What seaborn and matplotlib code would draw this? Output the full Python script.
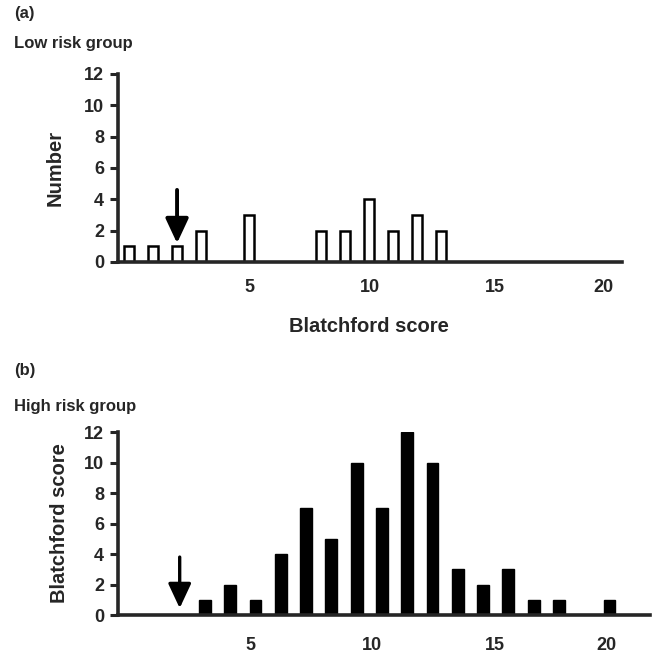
import seaborn as sns
import matplotlib.pyplot as plt
import numpy as np

# data
low_scores = [0, 1, 2, 3, 5, 8, 9, 10, 11, 12, 13]
low_counts = [1, 1, 1, 2, 3, 2, 2, 4, 2, 3, 2]

high_scores = [3, 4, 5, 6, 7, 8, 9, 10, 11, 12, 13, 14, 15, 16, 17, 19]
high_counts = [1, 2, 1, 4, 7, 5, 10, 7, 12, 10, 3, 2, 3, 1, 1, 1]

tick_labels = ["5", "10", "15", "20"]
y_ticks = [0, 2, 4, 6, 8, 10, 12]
cutoff = 2  # arrow marks the score cut-off

sns.set_style("ticks")
plt.rcParams["font.family"] = ["Liberation Sans", "DejaVu Sans"]
plt.rcParams["font.weight"] = "bold"

fig = plt.figure(figsize=(6.53, 6.54), dpi=100)


def style_axis(ax, xlim, xticks, pad):
    ax.set_xlim(*xlim)
    ax.set_ylim(0, 12)
    ax.set_yticks(y_ticks)
    ax.set_xticks(xticks)
    ax.set_xticklabels(tick_labels)
    sns.despine(ax=ax)
    for s in ["left", "bottom"]:
        ax.spines[s].set_linewidth(2.6)
    ax.tick_params(axis="y", length=6, width=2.2, labelsize=13, pad=4)
    ax.tick_params(axis="x", length=0, labelsize=13, pad=pad)
    for lab in ax.get_xticklabels() + ax.get_yticklabels():
        lab.set_fontweight("bold")
    ax.set_xlabel("")
    ax.set_ylabel("")


# (a) low risk
ax1 = fig.add_axes([0.1807, 0.5994, 0.772, 0.2875])
sns.barplot(x=low_scores, y=low_counts, native_scale=True, width=0.42,
            color="white", edgecolor="black", linewidth=1.8, ax=ax1)
style_axis(ax1, (-0.46, 20.54), [5, 10.04, 15.25, 19.75], pad=12)
ax1.annotate("", xy=(cutoff, 1.2), xytext=(cutoff, 4.6),
             arrowprops=dict(arrowstyle="-|>,head_length=0.75,head_width=0.35",
                             mutation_scale=20, lw=2.8, color="black",
                             shrinkA=0, shrinkB=0))
ax1.set_ylabel("Number", fontsize=14.5, fontweight="bold", labelpad=14)

# (b) high risk
ax2 = fig.add_axes([0.1807, 0.0596, 0.8147, 0.2798])
sns.barplot(x=high_scores, y=high_counts, native_scale=True, width=0.47,
            color="black", edgecolor="black", linewidth=1, ax=ax2)
style_axis(ax2, (-0.44, 20.6), [4.78, 9.6, 14.46, 18.89], pad=16)
ax2.annotate("", xy=(cutoff, 0.45), xytext=(cutoff, 3.8),
             arrowprops=dict(arrowstyle="-|>,head_length=0.75,head_width=0.35",
                             mutation_scale=20, lw=2.4, color="black",
                             shrinkA=0, shrinkB=0))
ax2.set_ylabel("Blatchford score", fontsize=14.5, fontweight="bold", labelpad=11)

fig.text(0.021, 0.979, "(a)", fontsize=12, fontweight="bold", va="center")
fig.text(0.021, 0.934, "Low risk group", fontsize=12, fontweight="bold", va="center")
fig.text(0.565, 0.500, "Blatchford score", fontsize=14.5, fontweight="bold",
         ha="center", va="center")
fig.text(0.021, 0.434, "(b)", fontsize=12, fontweight="bold", va="center")
fig.text(0.021, 0.379, "High risk group", fontsize=12, fontweight="bold", va="center")

fig.savefig("out.png", dpi=100)
